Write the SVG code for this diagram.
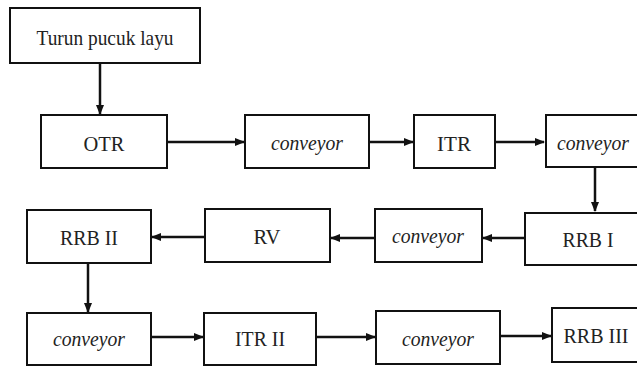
<svg xmlns="http://www.w3.org/2000/svg" width="637" height="366" viewBox="0 0 637 366">
<style>
.box{fill:#fff;stroke:#111;stroke-width:2}
.t{font-family:"Liberation Serif","Times New Roman",serif;font-size:22px;fill:#222;text-anchor:middle}
.i{font-style:italic}
.c{stroke:#111;stroke-width:2.5;fill:none;marker-end:url(#ah)}
</style>
<defs>
<marker id="ah" markerWidth="10" markerHeight="10" refX="9" refY="5" orient="auto" markerUnits="userSpaceOnUse">
<path d="M0,1 L10,5 L0,9 Z" fill="#111"/>
</marker>
</defs>
<rect width="637" height="366" fill="#fff"/>
<g id="connectors">
<line class="c" x1="100" y1="63" x2="100" y2="114"/>
<line class="c" x1="167" y1="142" x2="244" y2="142"/>
<line class="c" x1="369" y1="142" x2="413" y2="142"/>
<line class="c" x1="495" y1="142" x2="544" y2="142"/>
<line class="c" x1="595" y1="167" x2="595" y2="211"/>
<line class="c" x1="525" y1="238" x2="483" y2="238"/>
<line class="c" x1="375" y1="238" x2="331" y2="238"/>
<line class="c" x1="205" y1="237" x2="152" y2="237"/>
<line class="c" x1="88" y1="263" x2="88" y2="312"/>
<line class="c" x1="151" y1="337" x2="203" y2="337"/>
<line class="c" x1="316" y1="337" x2="375" y2="337"/>
<line class="c" x1="500" y1="336" x2="551" y2="336"/>
</g>
<g id="turun"><rect class="box" x="10" y="8" width="190" height="55"/><text class="t" x="105" y="45" textLength="137" lengthAdjust="spacingAndGlyphs">Turun pucuk layu</text></g>
<g id="otr"><rect class="box" x="41" y="115" width="126" height="53"/><text class="t" x="104" y="151" textLength="41" lengthAdjust="spacingAndGlyphs">OTR</text></g>
<g id="conveyor1"><rect class="box" x="245" y="115" width="124" height="53"/><text class="t i" x="307" y="150" textLength="72" lengthAdjust="spacingAndGlyphs">conveyor</text></g>
<g id="itr"><rect class="box" x="414" y="115" width="81" height="53"/><text class="t" x="454" y="151" textLength="34" lengthAdjust="spacingAndGlyphs">ITR</text></g>
<g id="conveyor2"><path class="box" d="M637,115 H546 V167 H637"/><text class="t i" x="593" y="150" textLength="72" lengthAdjust="spacingAndGlyphs">conveyor</text></g>
<g id="rrb1"><path class="box" d="M637,213 H525 V265 H637"/><text class="t" x="588" y="247" textLength="51" lengthAdjust="spacingAndGlyphs">RRB I</text></g>
<g id="conveyor3"><rect class="box" x="375" y="209" width="107" height="53"/><text class="t i" x="428" y="243" textLength="72" lengthAdjust="spacingAndGlyphs">conveyor</text></g>
<g id="rv"><rect class="box" x="205" y="209" width="125" height="53"/><text class="t" x="267" y="244" textLength="27" lengthAdjust="spacingAndGlyphs">RV</text></g>
<g id="rrb2"><rect class="box" x="27" y="210" width="124" height="53"/><text class="t" x="89" y="245" textLength="58" lengthAdjust="spacingAndGlyphs">RRB II</text></g>
<g id="conveyor4"><rect class="box" x="27" y="313" width="124" height="52"/><text class="t i" x="89" y="346" textLength="72" lengthAdjust="spacingAndGlyphs">conveyor</text></g>
<g id="itr2"><rect class="box" x="204" y="313" width="112" height="52"/><text class="t" x="260" y="346" textLength="50" lengthAdjust="spacingAndGlyphs">ITR II</text></g>
<g id="conveyor5"><rect class="box" x="376" y="311" width="124" height="53"/><text class="t i" x="438" y="346" textLength="72" lengthAdjust="spacingAndGlyphs">conveyor</text></g>
<g id="rrb3"><path class="box" d="M637,308 H552 V362 H637"/><text class="t" x="596" y="343" textLength="65" lengthAdjust="spacingAndGlyphs">RRB III</text></g>
</svg>
